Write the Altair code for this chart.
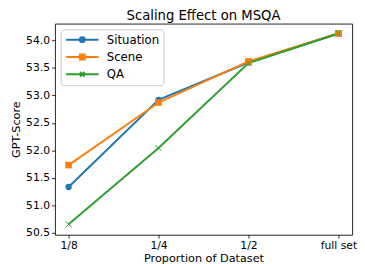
import altair as alt
import pandas as pd

proportions = ["1/8", "1/4", "1/2", "full set"]
series_names = ["Situation", "Scene", "QA"]
situation = [51.33, 52.92, 53.60, 54.13]
scene = [51.73, 52.87, 53.62, 54.13]
qa = [50.65, 52.04, 53.59, 54.13]
colors = ["#1f77b4", "#ff7f0e", "#2ca02c"]
y_ticks = [50.5, 51.0, 51.5, 52.0, 52.5, 53.0, 53.5, 54.0]

rows = []
for name, vals in zip(series_names, [situation, scene, qa]):
    for p, v in zip(proportions, vals):
        rows.append({"proportion": p, "score": v, "series": name})
df = pd.DataFrame(rows)

FONT = "DejaVu Sans"

x_enc = alt.X("proportion:N", sort=proportions,
              scale=alt.Scale(type="point", domain=proportions, padding=0.152),
              axis=alt.Axis(title="Proportion of Dataset", labelAngle=0))
y_enc = alt.Y("score:Q", scale=alt.Scale(domain=[50.46, 54.31], nice=False, zero=False),
              axis=alt.Axis(title="GPT-Score", values=y_ticks, format=".1f"))
color_scale = alt.Scale(domain=series_names, range=colors)
color_enc = alt.Color("series:N", scale=color_scale, legend=None)

base = alt.Chart(df)

lines = base.mark_line(strokeWidth=2).encode(x=x_enc, y=y_enc, color=color_enc)

pt_situation = base.transform_filter(alt.datum.series == "Situation").mark_point(
    shape="circle", filled=True, size=42, opacity=1).encode(x=x_enc, y=y_enc, color=color_enc)
pt_scene = base.transform_filter(alt.datum.series == "Scene").mark_point(
    shape="square", filled=True, size=46, opacity=1).encode(x=x_enc, y=y_enc, color=color_enc)
pt_qa = base.transform_filter(alt.datum.series == "QA").mark_point(
    shape="M-1,-1L1,1M-1,1L1,-1", filled=False, size=40, strokeWidth=1, opacity=1).encode(
    x=x_enc, y=y_enc, color=color_enc)

# legend glyphs: a line segment with a marker drawn by nested strokes
legend_paths = [
    "M-1,0H1M0.15,0A0.15,0.15,0,1,1,-0.15,0A0.15,0.15,0,1,1,0.15,0Z"
    "M0.04,0A0.04,0.04,0,1,1,-0.04,0A0.04,0.04,0,1,1,0.04,0Z",
    "M-1,0H1M-0.15,-0.15H0.15V0.15H-0.15ZM-0.04,-0.04H0.04V0.04H-0.04Z",
    "M-1,0H1M-0.14,-0.14L0.14,0.14M-0.14,0.14L0.14,-0.14",
]
leg = alt.Legend(title=None, orient="top-left", offset=6, symbolSize=1100,
                 symbolStrokeWidth=2, symbolOpacity=1, symbolFillColor="transparent",
                 labelFontSize=12, labelFont=FONT, labelColor="black", labelOffset=7,
                 clipHeight=13, rowPadding=4.7,
                 fillColor="white", strokeColor="#cccccc", cornerRadius=3, padding=4)
legend_layer = base.mark_point(filled=False, opacity=0.01).encode(
    x=x_enc, y=y_enc,
    color=alt.Color("series:N", scale=color_scale, legend=leg),
    shape=alt.Shape("series:N", scale=alt.Scale(domain=series_names, range=legend_paths), legend=leg),
)

chart = alt.layer(lines, pt_situation, pt_scene, pt_qa, legend_layer).resolve_legend(
    color="independent", shape="independent"
).properties(
    width=304, height=216,
    title=alt.TitleParams("Scaling Effect on MSQA", fontSize=13.5, font=FONT, fontWeight="normal",
                          anchor="middle", frame="group", offset=1.5, color="black"),
    autosize=alt.AutoSizeParams(type="none"),
    padding={"left": 48, "top": 13, "right": 5, "bottom": 27},
).configure_view(stroke="#222222", strokeWidth=1).configure_axis(
    grid=False, domain=False, labelFont=FONT, titleFont=FONT, labelFontSize=11, titleFontSize=11.5,
    titleFontWeight="normal", labelColor="black", titleColor="black", tickColor="black",
    tickSize=3.5, tickWidth=0.8, labelPadding=2,
).configure_axisY(titlePadding=4).configure_axisX(titlePadding=2)

chart.save("out.html", embed_options={"renderer": "svg", "actions": False})
